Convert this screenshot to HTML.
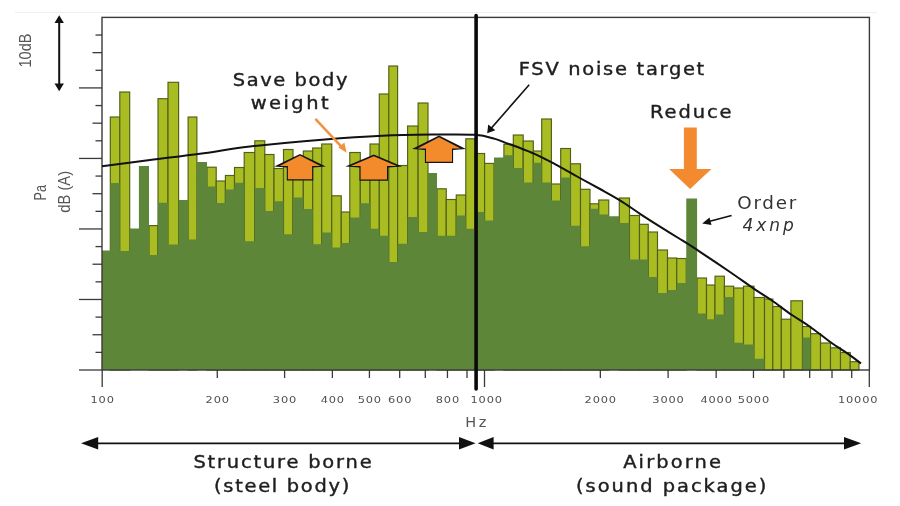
<!DOCTYPE html>
<html><head><meta charset="utf-8"><style>
html,body{margin:0;padding:0;background:#fff;}
svg{display:block;filter:blur(0.45px);}
.t{font-family:"DejaVu Sans",sans-serif;fill:#1e1e1e;}
</style></head><body>
<svg width="900" height="506" viewBox="0 0 900 506">
<rect width="900" height="506" fill="#fff"/>
<line x1="15" y1="12.5" x2="877" y2="12.5" stroke="#efefef" stroke-width="1"/>
<g id="bars">
<rect x="110.30" y="117.00" width="9.50" height="253.00" fill="#a9bd22" stroke="#515f18" stroke-width="1.15"/>
<rect x="119.80" y="92.00" width="9.90" height="278.00" fill="#a9bd22" stroke="#515f18" stroke-width="1.15"/>
<rect x="149.00" y="225.60" width="9.00" height="144.40" fill="#a9bd22" stroke="#515f18" stroke-width="1.15"/>
<rect x="158.00" y="98.70" width="10.00" height="271.30" fill="#a9bd22" stroke="#515f18" stroke-width="1.15"/>
<rect x="168.00" y="82.30" width="10.60" height="287.70" fill="#a9bd22" stroke="#515f18" stroke-width="1.15"/>
<rect x="188.10" y="117.00" width="8.80" height="253.00" fill="#a9bd22" stroke="#515f18" stroke-width="1.15"/>
<rect x="207.00" y="167.20" width="9.20" height="202.80" fill="#a9bd22" stroke="#515f18" stroke-width="1.15"/>
<rect x="216.20" y="181.00" width="9.20" height="189.00" fill="#a9bd22" stroke="#515f18" stroke-width="1.15"/>
<rect x="225.40" y="175.50" width="9.10" height="194.50" fill="#a9bd22" stroke="#515f18" stroke-width="1.15"/>
<rect x="234.50" y="167.50" width="9.70" height="202.50" fill="#a9bd22" stroke="#515f18" stroke-width="1.15"/>
<rect x="244.20" y="152.50" width="10.60" height="217.50" fill="#a9bd22" stroke="#515f18" stroke-width="1.15"/>
<rect x="254.80" y="140.80" width="10.00" height="229.20" fill="#a9bd22" stroke="#515f18" stroke-width="1.15"/>
<rect x="264.80" y="154.50" width="9.20" height="215.50" fill="#a9bd22" stroke="#515f18" stroke-width="1.15"/>
<rect x="274.00" y="168.50" width="9.50" height="201.50" fill="#a9bd22" stroke="#515f18" stroke-width="1.15"/>
<rect x="283.50" y="149.50" width="9.50" height="220.50" fill="#a9bd22" stroke="#515f18" stroke-width="1.15"/>
<rect x="293.00" y="158.00" width="10.30" height="212.00" fill="#a9bd22" stroke="#515f18" stroke-width="1.15"/>
<rect x="303.30" y="151.00" width="9.40" height="219.00" fill="#a9bd22" stroke="#515f18" stroke-width="1.15"/>
<rect x="312.70" y="148.00" width="9.00" height="222.00" fill="#a9bd22" stroke="#515f18" stroke-width="1.15"/>
<rect x="321.70" y="144.00" width="10.05" height="226.00" fill="#a9bd22" stroke="#515f18" stroke-width="1.15"/>
<rect x="331.75" y="195.80" width="9.50" height="174.20" fill="#a9bd22" stroke="#515f18" stroke-width="1.15"/>
<rect x="341.25" y="212.00" width="8.55" height="158.00" fill="#a9bd22" stroke="#515f18" stroke-width="1.15"/>
<rect x="349.80" y="152.50" width="10.50" height="217.50" fill="#a9bd22" stroke="#515f18" stroke-width="1.15"/>
<rect x="360.30" y="165.00" width="9.70" height="205.00" fill="#a9bd22" stroke="#515f18" stroke-width="1.15"/>
<rect x="370.00" y="144.00" width="9.30" height="226.00" fill="#a9bd22" stroke="#515f18" stroke-width="1.15"/>
<rect x="379.30" y="94.00" width="9.50" height="276.00" fill="#a9bd22" stroke="#515f18" stroke-width="1.15"/>
<rect x="388.80" y="66.00" width="8.80" height="304.00" fill="#a9bd22" stroke="#515f18" stroke-width="1.15"/>
<rect x="397.60" y="165.50" width="10.00" height="204.50" fill="#a9bd22" stroke="#515f18" stroke-width="1.15"/>
<rect x="407.60" y="126.00" width="10.50" height="244.00" fill="#a9bd22" stroke="#515f18" stroke-width="1.15"/>
<rect x="418.10" y="103.00" width="9.90" height="267.00" fill="#a9bd22" stroke="#515f18" stroke-width="1.15"/>
<rect x="437.00" y="188.80" width="9.25" height="181.20" fill="#a9bd22" stroke="#515f18" stroke-width="1.15"/>
<rect x="446.25" y="199.50" width="10.00" height="170.50" fill="#a9bd22" stroke="#515f18" stroke-width="1.15"/>
<rect x="456.25" y="195.00" width="9.55" height="175.00" fill="#a9bd22" stroke="#515f18" stroke-width="1.15"/>
<rect x="465.80" y="138.80" width="9.10" height="231.20" fill="#a9bd22" stroke="#515f18" stroke-width="1.15"/>
<rect x="474.90" y="153.50" width="9.70" height="216.50" fill="#a9bd22" stroke="#515f18" stroke-width="1.15"/>
<rect x="484.60" y="163.40" width="9.40" height="206.60" fill="#a9bd22" stroke="#515f18" stroke-width="1.15"/>
<rect x="503.90" y="144.30" width="9.40" height="225.70" fill="#a9bd22" stroke="#515f18" stroke-width="1.15"/>
<rect x="513.30" y="135.00" width="9.90" height="235.00" fill="#a9bd22" stroke="#515f18" stroke-width="1.15"/>
<rect x="523.20" y="141.00" width="10.10" height="229.00" fill="#a9bd22" stroke="#515f18" stroke-width="1.15"/>
<rect x="533.30" y="151.00" width="8.40" height="219.00" fill="#a9bd22" stroke="#515f18" stroke-width="1.15"/>
<rect x="541.70" y="119.00" width="9.70" height="251.00" fill="#a9bd22" stroke="#515f18" stroke-width="1.15"/>
<rect x="551.40" y="184.00" width="9.30" height="186.00" fill="#a9bd22" stroke="#515f18" stroke-width="1.15"/>
<rect x="560.70" y="148.50" width="9.80" height="221.50" fill="#a9bd22" stroke="#515f18" stroke-width="1.15"/>
<rect x="570.50" y="163.80" width="10.00" height="206.20" fill="#a9bd22" stroke="#515f18" stroke-width="1.15"/>
<rect x="580.50" y="189.30" width="9.50" height="180.70" fill="#a9bd22" stroke="#515f18" stroke-width="1.15"/>
<rect x="590.00" y="203.80" width="8.75" height="166.20" fill="#a9bd22" stroke="#515f18" stroke-width="1.15"/>
<rect x="598.75" y="200.00" width="10.00" height="170.00" fill="#a9bd22" stroke="#515f18" stroke-width="1.15"/>
<rect x="619.30" y="198.00" width="10.20" height="172.00" fill="#a9bd22" stroke="#515f18" stroke-width="1.15"/>
<rect x="629.50" y="215.50" width="10.00" height="154.50" fill="#a9bd22" stroke="#515f18" stroke-width="1.15"/>
<rect x="639.50" y="224.30" width="8.75" height="145.70" fill="#a9bd22" stroke="#515f18" stroke-width="1.15"/>
<rect x="648.25" y="232.00" width="9.25" height="138.00" fill="#a9bd22" stroke="#515f18" stroke-width="1.15"/>
<rect x="657.50" y="250.00" width="10.00" height="120.00" fill="#a9bd22" stroke="#515f18" stroke-width="1.15"/>
<rect x="667.50" y="258.00" width="9.25" height="112.00" fill="#a9bd22" stroke="#515f18" stroke-width="1.15"/>
<rect x="676.75" y="258.50" width="9.50" height="111.50" fill="#a9bd22" stroke="#515f18" stroke-width="1.15"/>
<rect x="697.10" y="278.00" width="9.40" height="92.00" fill="#a9bd22" stroke="#515f18" stroke-width="1.15"/>
<rect x="706.50" y="285.00" width="8.50" height="85.00" fill="#a9bd22" stroke="#515f18" stroke-width="1.15"/>
<rect x="715.00" y="276.20" width="9.40" height="93.80" fill="#a9bd22" stroke="#515f18" stroke-width="1.15"/>
<rect x="724.40" y="286.20" width="9.30" height="83.80" fill="#a9bd22" stroke="#515f18" stroke-width="1.15"/>
<rect x="733.70" y="288.00" width="9.80" height="82.00" fill="#a9bd22" stroke="#515f18" stroke-width="1.15"/>
<rect x="743.50" y="286.20" width="10.50" height="83.80" fill="#a9bd22" stroke="#515f18" stroke-width="1.15"/>
<rect x="754.00" y="297.50" width="10.50" height="72.50" fill="#a9bd22" stroke="#515f18" stroke-width="1.15"/>
<rect x="764.50" y="299.00" width="8.30" height="71.00" fill="#a9bd22" stroke="#515f18" stroke-width="1.15"/>
<rect x="772.80" y="306.50" width="8.50" height="63.50" fill="#a9bd22" stroke="#515f18" stroke-width="1.15"/>
<rect x="781.30" y="319.20" width="9.60" height="50.80" fill="#a9bd22" stroke="#515f18" stroke-width="1.15"/>
<rect x="790.90" y="300.80" width="11.60" height="69.20" fill="#a9bd22" stroke="#515f18" stroke-width="1.15"/>
<rect x="802.50" y="326.50" width="8.10" height="43.50" fill="#a9bd22" stroke="#515f18" stroke-width="1.15"/>
<rect x="810.60" y="333.70" width="9.90" height="36.30" fill="#a9bd22" stroke="#515f18" stroke-width="1.15"/>
<rect x="820.50" y="343.00" width="10.00" height="27.00" fill="#a9bd22" stroke="#515f18" stroke-width="1.15"/>
<rect x="830.50" y="347.80" width="10.00" height="22.20" fill="#a9bd22" stroke="#515f18" stroke-width="1.15"/>
<rect x="840.50" y="352.50" width="9.70" height="17.50" fill="#a9bd22" stroke="#515f18" stroke-width="1.15"/>
<rect x="850.20" y="361.70" width="8.80" height="8.30" fill="#a9bd22" stroke="#515f18" stroke-width="1.15"/>
<path d="M102,370.0 L102.00,250.50 L110.30,250.50 L110.30,183.00 L119.80,183.00 L119.80,251.00 L129.70,251.00 L129.70,228.50 L138.90,228.50 L138.90,166.00 L149.00,166.00 L149.00,255.00 L158.00,255.00 L158.00,202.70 L168.00,202.70 L168.00,244.50 L178.60,244.50 L178.60,200.00 L188.10,200.00 L188.10,239.50 L196.90,239.50 L196.90,162.00 L207.00,162.00 L207.00,186.50 L216.20,186.50 L216.20,203.00 L225.40,203.00 L225.40,189.60 L234.50,189.60 L234.50,182.70 L244.20,182.70 L244.20,241.30 L254.80,241.30 L254.80,188.10 L264.80,188.10 L264.80,211.00 L274.00,211.00 L274.00,201.30 L283.50,201.30 L283.50,234.30 L293.00,234.30 L293.00,197.50 L303.30,197.50 L303.30,209.00 L312.70,209.00 L312.70,244.30 L321.70,244.30 L321.70,232.50 L331.75,232.50 L331.75,247.50 L341.25,247.50 L341.25,243.00 L349.80,243.00 L349.80,217.50 L360.30,217.50 L360.30,203.30 L370.00,203.30 L370.00,228.80 L379.30,228.80 L379.30,235.80 L388.80,235.80 L388.80,262.00 L397.60,262.00 L397.60,243.80 L407.60,243.80 L407.60,217.00 L418.10,217.00 L418.10,232.00 L428.00,232.00 L428.00,173.00 L437.00,173.00 L437.00,235.80 L446.25,235.80 L446.25,235.80 L456.25,235.80 L456.25,215.50 L465.80,215.50 L465.80,228.80 L474.90,228.80 L474.90,212.00 L484.60,212.00 L484.60,220.50 L494.00,220.50 L494.00,157.50 L503.90,157.50 L503.90,155.20 L513.30,155.20 L513.30,168.00 L523.20,168.00 L523.20,182.50 L533.30,182.50 L533.30,162.80 L541.70,162.80 L541.70,182.50 L551.40,182.50 L551.40,200.50 L560.70,200.50 L560.70,177.50 L570.50,177.50 L570.50,225.80 L580.50,225.80 L580.50,246.30 L590.00,246.30 L590.00,208.80 L598.75,208.80 L598.75,214.50 L608.75,214.50 L608.75,216.30 L619.30,216.30 L619.30,223.00 L629.50,223.00 L629.50,259.50 L639.50,259.50 L639.50,259.50 L648.25,259.50 L648.25,277.00 L657.50,277.00 L657.50,293.00 L667.50,293.00 L667.50,290.00 L676.75,290.00 L676.75,283.00 L686.25,283.00 L686.25,198.50 L697.10,198.50 L697.10,313.60 L706.50,313.60 L706.50,319.30 L715.00,319.30 L715.00,314.40 L724.40,314.40 L724.40,296.90 L733.70,296.90 L733.70,342.80 L743.50,342.80 L743.50,344.60 L754.00,344.60 L754.00,358.80 L764.50,358.80 L764.50,370.00 L772.80,370.00 L772.80,370.00 L781.30,370.00 L781.30,370.00 L790.90,370.00 L790.90,370.00 L802.50,370.00 L802.50,337.40 L810.60,337.40 L810.60,370.00 L820.50,370.00 L820.50,370.00 L830.50,370.00 L830.50,370.00 L840.50,370.00 L840.50,370.00 L850.20,370.00 L850.20,370.00 L859.00,370.00 L859.00,370.0 Z" fill="#5e8639"/>
</g>
<rect x="102" y="17.4" width="767.4" height="352.6" fill="none" stroke="#3a3a3a" stroke-width="1.4"/>
<g stroke="#3a3a3a" stroke-width="1.3">
<line x1="95.5" y1="35.03" x2="102" y2="35.03"/>
<line x1="92.5" y1="52.66" x2="102" y2="52.66"/>
<line x1="95.5" y1="70.29" x2="102" y2="70.29"/>
<line x1="79" y1="87.92" x2="102" y2="87.92"/>
<line x1="95.5" y1="105.55" x2="102" y2="105.55"/>
<line x1="92.5" y1="123.18" x2="102" y2="123.18"/>
<line x1="95.5" y1="140.81" x2="102" y2="140.81"/>
<line x1="79" y1="158.44" x2="102" y2="158.44"/>
<line x1="95.5" y1="176.07" x2="102" y2="176.07"/>
<line x1="92.5" y1="193.70" x2="102" y2="193.70"/>
<line x1="95.5" y1="211.33" x2="102" y2="211.33"/>
<line x1="79" y1="228.96" x2="102" y2="228.96"/>
<line x1="95.5" y1="246.59" x2="102" y2="246.59"/>
<line x1="92.5" y1="264.22" x2="102" y2="264.22"/>
<line x1="95.5" y1="281.85" x2="102" y2="281.85"/>
<line x1="79" y1="299.48" x2="102" y2="299.48"/>
<line x1="95.5" y1="317.11" x2="102" y2="317.11"/>
<line x1="92.5" y1="334.74" x2="102" y2="334.74"/>
<line x1="95.5" y1="352.37" x2="102" y2="352.37"/>
<line x1="79" y1="370.00" x2="102" y2="370.00"/>
<line x1="102.20" y1="370" x2="102.20" y2="387"/>
<line x1="217.28" y1="370" x2="217.28" y2="378"/>
<line x1="284.60" y1="370" x2="284.60" y2="378"/>
<line x1="332.37" y1="370" x2="332.37" y2="378"/>
<line x1="369.42" y1="370" x2="369.42" y2="378"/>
<line x1="399.69" y1="370" x2="399.69" y2="378"/>
<line x1="425.28" y1="370" x2="425.28" y2="378"/>
<line x1="447.45" y1="370" x2="447.45" y2="378"/>
<line x1="467.01" y1="370" x2="467.01" y2="378"/>
<line x1="484.50" y1="370" x2="484.50" y2="387"/>
<line x1="600.34" y1="370" x2="600.34" y2="378"/>
<line x1="668.10" y1="370" x2="668.10" y2="378"/>
<line x1="716.17" y1="370" x2="716.17" y2="378"/>
<line x1="753.46" y1="370" x2="753.46" y2="378"/>
<line x1="783.93" y1="370" x2="783.93" y2="378"/>
<line x1="809.69" y1="370" x2="809.69" y2="378"/>
<line x1="832.01" y1="370" x2="832.01" y2="378"/>
<line x1="851.69" y1="370" x2="851.69" y2="378"/>
<line x1="869.30" y1="370" x2="869.30" y2="387"/>
</g>
<path d="M102,166.2 C110.00,165.17 133.67,162.07 150,160 C166.33,157.93 183.33,156.05 200,153.8 C216.67,151.55 229.17,148.90 250,146.5 C270.83,144.10 302.92,141.20 325,139.4 C347.08,137.60 364.58,136.50 382.5,135.7 C400.42,134.90 417.08,134.75 432.5,134.6 C447.92,134.45 464.58,134.08 475,134.8 C485.42,135.52 490.00,137.60 495,138.9 C500.00,140.20 500.83,141.08 505,142.6 C509.17,144.12 515.17,146.17 520,148 C524.83,149.83 529.83,151.77 534,153.6 C538.17,155.43 540.67,156.80 545,159 C549.33,161.20 554.50,163.80 560,166.8 C565.50,169.80 571.33,173.30 578,177 C584.67,180.70 592.93,185.07 600,189 C607.07,192.93 613.73,196.47 620.4,200.6 C627.07,204.73 633.40,209.47 640,213.8 C646.60,218.13 653.33,222.40 660,226.6 C666.67,230.80 673.33,234.80 680,239 C686.67,243.20 691.67,246.30 700,251.8 C708.33,257.30 721.05,265.87 730,272 C738.95,278.13 746.78,283.90 753.7,288.6 C760.62,293.30 765.18,295.83 771.5,300.2 C777.82,304.57 785.18,310.38 791.6,314.8 C798.02,319.22 803.48,322.12 810,326.7 C816.52,331.28 824.18,337.65 830.7,342.3 C837.22,346.95 844.05,351.07 849.1,354.6 C854.15,358.13 859.02,362.02 861,363.5" fill="none" stroke="#111" stroke-width="2"/>
<line x1="476.1" y1="15.5" x2="476.1" y2="389" stroke="#0a0a0a" stroke-width="3.6" stroke-linecap="round"/>
<g font-family="DejaVu Sans" font-size="9.5" fill="#505050" text-anchor="middle" letter-spacing="0.7">
<text transform="translate(102.60,402.8) scale(1.2,1)">100</text>
<text transform="translate(217.68,402.8) scale(1.2,1)">200</text>
<text transform="translate(285.00,402.8) scale(1.2,1)">300</text>
<text transform="translate(332.77,402.8) scale(1.2,1)">400</text>
<text transform="translate(369.82,402.8) scale(1.2,1)">500</text>
<text transform="translate(400.09,402.8) scale(1.2,1)">600</text>
<text transform="translate(447.85,402.8) scale(1.2,1)">800</text>
<text transform="translate(486.70,402.8) scale(1.2,1)">1000</text>
<text transform="translate(600.74,402.8) scale(1.2,1)">2000</text>
<text transform="translate(668.50,402.8) scale(1.2,1)">3000</text>
<text transform="translate(716.57,402.8) scale(1.2,1)">4000</text>
<text transform="translate(753.86,402.8) scale(1.2,1)">5000</text>
<text transform="translate(858.10,402.8) scale(1.2,1)">10000</text>
</g>
<text x="477" y="426.6" font-family="DejaVu Sans" font-size="14.5" fill="#555" text-anchor="middle" letter-spacing="2.5">Hz</text>
<!-- 10dB arrow -->
<g fill="#111" stroke="none">
<rect x="58.2" y="20" width="2" height="67"/>
<polygon points="59.2,15.3 54.5,23 63.9,23"/>
<polygon points="59.2,91.3 54.5,83.6 63.9,83.6"/>
</g>
<text transform="translate(30.9,50.5) rotate(-90) scale(0.91,1)" font-family="Liberation Sans" font-size="16" fill="#555" text-anchor="middle">10dB</text>
<text transform="translate(46,192.7) rotate(-90) scale(0.79,1)" font-family="Liberation Sans" font-size="16" fill="#555" text-anchor="middle">Pa</text>
<text transform="translate(69.5,191.8) rotate(-90) scale(0.92,1)" font-family="Liberation Sans" font-size="16" fill="#555" text-anchor="middle">dB (A)</text>
<!-- texts -->
<g class="t" font-size="18" stroke="#1e1e1e" stroke-width="0.42">
<text transform="translate(232.7,86.1) scale(1.08,1)" letter-spacing="1.49">Save body</text>
<text transform="translate(250.7,109.3) scale(1.08,1)" letter-spacing="2.29">weight</text>
<text transform="translate(518.8,75) scale(1.08,1)" letter-spacing="1.6">FSV noise target</text>
<text transform="translate(650,117.6) scale(1.08,1)" letter-spacing="1.8">Reduce</text>
<text transform="translate(193.4,468) scale(1.08,1)" letter-spacing="1.69">Structure borne</text>
<text transform="translate(214,492) scale(1.08,1)" letter-spacing="1.59">(steel body)</text>
<text transform="translate(623.2,468) scale(1.08,1)" letter-spacing="1.97">Airborne</text>
<text transform="translate(576,492) scale(1.08,1)" letter-spacing="1.85">(sound package)</text>
</g>
<g font-family="DejaVu Sans" font-size="17" fill="#333">
<text transform="translate(737.3,208.7) scale(1.08,1)" letter-spacing="1.56">Order</text>
<text transform="translate(742.6,230.7)" font-style="oblique" letter-spacing="2.9">4xnp</text>
</g>
<!-- FSV callout -->
<line x1="529.2" y1="84.7" x2="491" y2="128.5" stroke="#111" stroke-width="1.6"/>
<polygon points="487.2,133.3 488.2,124.5 495.3,130.2" fill="#111"/>
<!-- order callout -->
<line x1="731.6" y1="215.5" x2="708" y2="221.8" stroke="#111" stroke-width="1.6"/>
<polygon points="702.2,223.4 709.5,217.5 711.5,225" fill="#111"/>
<!-- save body orange connector -->
<line x1="315.4" y1="118.9" x2="342.5" y2="147.8" stroke="#f29240" stroke-width="2.5"/>
<polygon points="346.6,152.8 338.3,147.6 344.4,142.5" fill="#f29240"/>
<!-- orange up arrows -->
<polygon points="274.2,166.6 300.0,154.0 325.8,166.6 313.2,167.5 313.2,180.4 286.8,180.4 286.8,167.5" fill="#141414"/>
<polygon points="279.7,166.0 300.0,155.6 320.3,166.0 312.1,166.0 312.1,179.2 287.9,179.2 287.9,166.0" fill="#f38a2c"/>
<polygon points="345.4,166.6 373.8,154.6 402.2,166.6 388.1,167.5 388.1,180.8 359.5,180.8 359.5,167.5" fill="#141414"/>
<polygon points="350.9,166.0 373.8,156.2 396.7,166.0 387.0,166.0 387.0,179.6 360.6,179.6 360.6,166.0" fill="#f38a2c"/>
<polygon points="412.0,149.0 439.0,135.6 466.0,149.0 453.1,149.9 453.1,163.0 424.9,163.0 424.9,149.9" fill="#141414"/>
<polygon points="417.5,148.4 439.0,137.2 460.5,148.4 452.0,148.4 452.0,161.8 426.0,161.8 426.0,148.4" fill="#f38a2c"/>
<!-- reduce arrow -->
<polygon points="683.9,127.4 696.8,127.4 696.8,168.9 711.4,168.9 690.1,189 669.1,168.9 683.9,168.9" fill="#f38a2f"/>
<!-- bottom arrows -->
<g stroke="#111" stroke-width="1.8">
<line x1="95" y1="443.3" x2="462" y2="443.3"/>
<line x1="490" y1="443.3" x2="848" y2="443.3"/>
</g>
<g fill="#111">
<polygon points="81,443.3 98.2,436.9 98.2,449.5"/>
<polygon points="475.6,443.3 459,437.1 459,449.5"/>
<polygon points="477.7,443.3 493.6,437.1 493.6,449.5"/>
<polygon points="861.2,443.3 844,437.1 844,449.5"/>
</g>
</svg>
</body></html>
